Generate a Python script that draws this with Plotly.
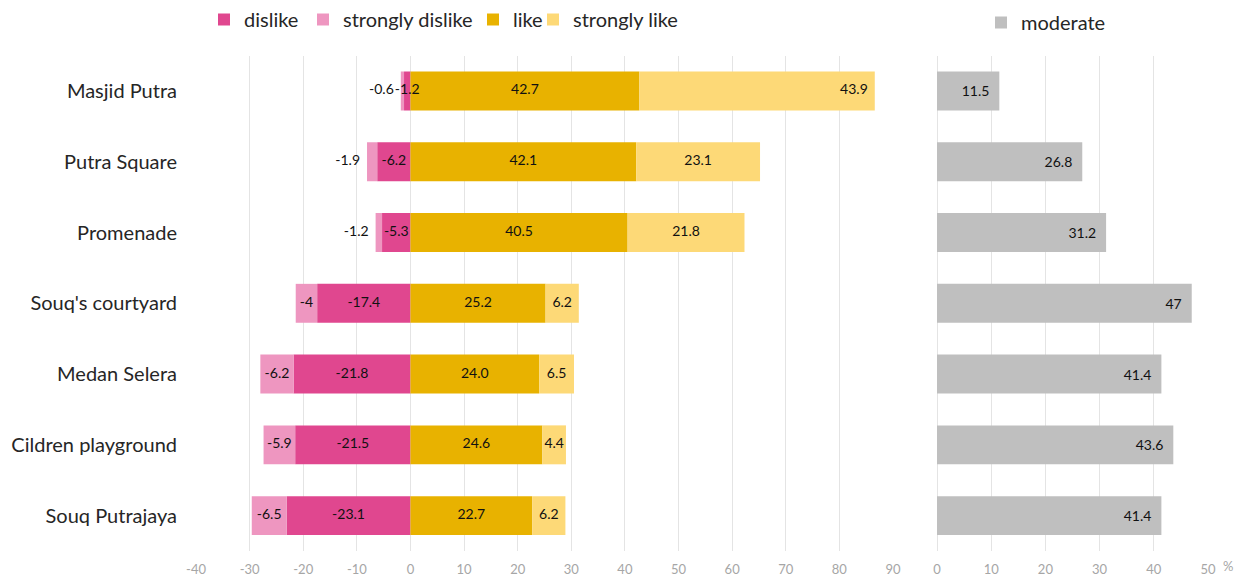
import plotly.graph_objects as go

# ---------------- data ----------------
categories = ["Masjid Putra", "Putra Square", "Promenade", "Souq's courtyard",
              "Medan Selera", "Cildren playground", "Souq Putrajaya"]
dislike = [-1.2, -6.2, -5.3, -17.4, -21.8, -21.5, -23.1]
strongly_dislike = [-0.6, -1.9, -1.2, -4, -6.2, -5.9, -6.5]
like = [42.7, 42.1, 40.5, 25.2, 24.0, 24.6, 22.7]
strongly_like = [43.9, 23.1, 21.8, 6.2, 6.5, 4.4, 6.2]
moderate = [11.5, 26.8, 31.2, 47, 41.4, 43.6, 41.4]
left_ticks = list(range(-40, 100, 10))
right_ticks = list(range(0, 60, 10))

# ---------------- styles ----------------
W, H = 1242, 578
C_DIS = "#E0478F"
C_SDIS = "#EE96C0"
C_LIKE = "#E8B200"
C_SLIKE = "#FDD977"
C_MOD = "#BFBFBF"
GRID = "#E4E4E4"
FONT = "Lato"
SP = "\u2002"

fig = go.Figure()

def add_bar(vals, name, color, legend, xa="x", ya="y"):
    fig.add_trace(go.Bar(
        y=categories, x=vals, name=name, orientation="h",
        marker=dict(color=color, line=dict(width=0)),
        xaxis=xa, yaxis=ya, legend=legend, textposition="none",
        hoverinfo="x+y+name",
    ))

add_bar(dislike, "dislike", C_DIS, "legend")
add_bar(strongly_dislike, "strongly dislike", C_SDIS, "legend3")
add_bar(like, "like", C_LIKE, "legend4")
add_bar(strongly_like, "strongly like", C_SLIKE, "legend5")

fig.add_trace(go.Bar(
    y=categories, x=moderate, name="moderate", orientation="h",
    marker=dict(color=C_MOD, line=dict(width=0)),
    xaxis="x2", yaxis="y2", legend="legend2",
    text=[str(v) + SP for v in moderate], textposition="inside",
    insidetextanchor="end", textangle=0,
    textfont=dict(family=FONT, size=14, color="#111111"),
    constraintext="none",
))

# ---------------- label positions derived from data ----------------
lx, ly, lt, lp = [], [], [], []
for i, cat in enumerate(categories):
    d, sd, l, sl = dislike[i], strongly_dislike[i], like[i], strongly_like[i]
    lx.append(d / 2); ly.append(cat); lt.append(str(d)); lp.append("middle center")
    if abs(sd) < 3:
        lx.append(d + sd); lp.append("middle left"); lt.append(str(sd) + SP)
    else:
        lx.append(d + sd / 2); lp.append("middle center"); lt.append(str(sd))
    ly.append(cat)
    lx.append(l / 2); ly.append(cat); lt.append(str(l)); lp.append("middle center")
    if sl > 40:
        lx.append(l + sl); lp.append("middle left"); lt.append(str(sl) + SP)
    else:
        lx.append(l + sl / 2); lp.append("middle center"); lt.append(str(sl))
    ly.append(cat)

fig.add_trace(go.Scatter(
    x=lx, y=ly, text=lt, mode="text", textposition=lp,
    textfont=dict(family=FONT, size=14, color="#111111"),
    showlegend=False, hoverinfo="skip", cliponaxis=False,
    xaxis="x", yaxis="y",
))

ydom = [27 / H, 1 - 55.6 / H]
axis_common = dict(
    showgrid=True, gridcolor=GRID, gridwidth=1,
    zeroline=True, zerolinecolor=GRID, zerolinewidth=1,
    showline=False, ticks="outside", ticklen=6, tickcolor="rgba(0,0,0,0)",
    tickfont=dict(family=FONT, size=13, color="#A6A6A6"),
    automargin=False, fixedrange=True,
)

def leg(text_x, top_y):
    return dict(orientation="h", x=(text_x - 40) / W, xanchor="left",
                y=1 - top_y / H, yanchor="top",
                font=dict(family=FONT, size=20, color="#262626"),
                itemwidth=30, bgcolor="rgba(0,0,0,0)")

fig.update_layout(
    template="none",
    width=W, height=H,
    margin=dict(l=0, r=0, t=0, b=0),
    paper_bgcolor="white", plot_bgcolor="white",
    barmode="relative", bargap=0.45,
    font=dict(family=FONT, color="#262626"),
    xaxis=dict(domain=[196 / W, 893 / W], range=[-40, 90],
               tickvals=left_ticks, ticktext=[str(v) for v in left_ticks],
               anchor="y", **axis_common),
    yaxis=dict(domain=ydom, categoryorder="array", categoryarray=categories,
               autorange="reversed", showgrid=False, zeroline=False,
               ticks="outside", ticklen=14, tickcolor="rgba(0,0,0,0)",
               tickfont=dict(family=FONT, size=20, color="#262626"),
               automargin=False, fixedrange=True, anchor="x"),
    xaxis2=dict(domain=[937 / W, 1208 / W], range=[0, 50],
                tickvals=right_ticks, ticktext=[str(v) for v in right_ticks],
                anchor="y2", **axis_common),
    yaxis2=dict(domain=ydom, matches="y", showticklabels=False,
                showgrid=False, zeroline=False, anchor="x2",
                categoryorder="array", categoryarray=categories,
                autorange="reversed", fixedrange=True),
    legend=leg(244, 0),
    legend3=leg(343, 0),
    legend4=leg(513, 0),
    legend5=leg(573, 0),
    legend2=leg(1021, 3),
    annotations=[dict(text="%", x=1228 / W, y=1 - 566 / H, xref="paper", yref="paper",
                      xanchor="center", yanchor="middle", showarrow=False,
                      font=dict(family=FONT, size=13, color="#A6A6A6"))],
    showlegend=True,
)

fig.write_html("out.html")
